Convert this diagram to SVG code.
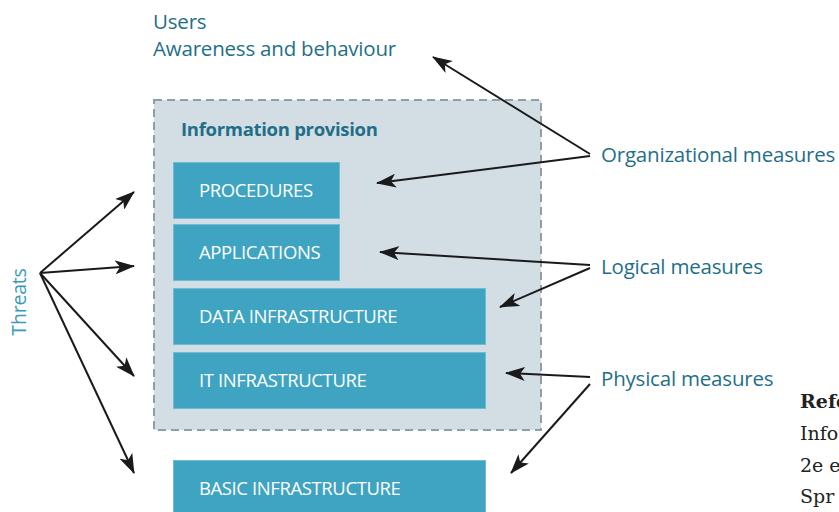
<svg xmlns="http://www.w3.org/2000/svg" width="839" height="512" viewBox="0 0 839 512">
<style>
.lbl{font-family:"Open Sans","Noto Sans",sans-serif;fill:#1f6f88;font-size:20.5px;letter-spacing:-0.2px}
.box{fill:#3ea4c1;stroke:#6dbcd3;stroke-width:1}
.bt{font-family:"Open Sans","Noto Sans",sans-serif;fill:#ffffff;font-size:18.5px;letter-spacing:-0.4px}
.conn{stroke:#1a1a1a;stroke-width:2;fill:none;marker-end:url(#ah)}
.ref{font-family:"DejaVu Serif","Liberation Serif",serif;fill:#222;font-size:19px}
</style>
<defs>
<marker id="ah" viewBox="0 0 20 14" refX="19" refY="7" markerWidth="20" markerHeight="14" markerUnits="userSpaceOnUse" orient="auto">
<path d="M0,0 L20,7 L0,14 L5,7 Z" fill="#1a1a1a"/>
</marker>
</defs>
<rect width="839" height="512" fill="#ffffff"/>
<g id="users">
<text class="lbl" x="153" y="29">Users</text>
<text class="lbl" x="153" y="56">Awareness and behaviour</text>
</g>
<g id="information-provision">
<rect x="154" y="100" width="387" height="330" fill="#d3dde4" stroke="#8d9fab" stroke-width="2" stroke-dasharray="8,5"/>
<text x="181" y="136" font-family="Open Sans, Noto Sans, sans-serif" font-weight="bold" font-size="18.5" fill="#1f6f88" letter-spacing="-0.3">Information provision</text>
</g>
<g id="procedures"><rect class="box" x="173.5" y="162.5" width="166" height="56"/><text class="bt" x="199" y="197">PROCEDURES</text></g>
<g id="applications"><rect class="box" x="173.5" y="224.5" width="166" height="56"/><text class="bt" x="199" y="259">APPLICATIONS</text></g>
<g id="data-infrastructure"><rect class="box" x="173.5" y="288.5" width="312" height="56"/><text class="bt" x="199" y="323">DATA INFRASTRUCTURE</text></g>
<g id="it-infrastructure"><rect class="box" x="173.5" y="352.5" width="312" height="56"/><text class="bt" x="199" y="387">IT INFRASTRUCTURE</text></g>
<g id="basic-infrastructure"><rect class="box" x="173.5" y="460.5" width="312" height="60"/><text class="bt" x="199" y="495">BASIC INFRASTRUCTURE</text></g>
<g id="threats"><text class="lbl" transform="translate(26,302) rotate(-90)" text-anchor="middle" style="fill:#3a9bb8;font-size:19.5px">Threats</text></g>
<g id="organizational"><text class="lbl" x="601" y="162">Organizational measures</text></g>
<g id="logical"><text class="lbl" x="601" y="274">Logical measures</text></g>
<g id="physical"><text class="lbl" x="601" y="386">Physical measures</text></g>
<g id="reference">
<text class="ref" x="800" y="408" font-weight="bold">Refe</text>
<text class="ref" x="800" y="440">Info</text>
<text class="ref" x="800" y="472">2e e</text>
<text class="ref" x="800" y="503">Spr</text>
</g>
<g id="connectors">
<path class="conn" d="M590,154 L433,57"/>
<path class="conn" d="M590,156 L377,183"/>
<path class="conn" d="M590,265 L380,252"/>
<path class="conn" d="M590,268 L500,307"/>
<path class="conn" d="M590,377 L506,373"/>
<path class="conn" d="M590,384 L511,473"/>
<path class="conn" d="M40,273 L134,192"/>
<path class="conn" d="M40,273 L134,266"/>
<path class="conn" d="M40,273 L134,376"/>
<path class="conn" d="M40,273 L134,473"/>
</g>
</svg>
